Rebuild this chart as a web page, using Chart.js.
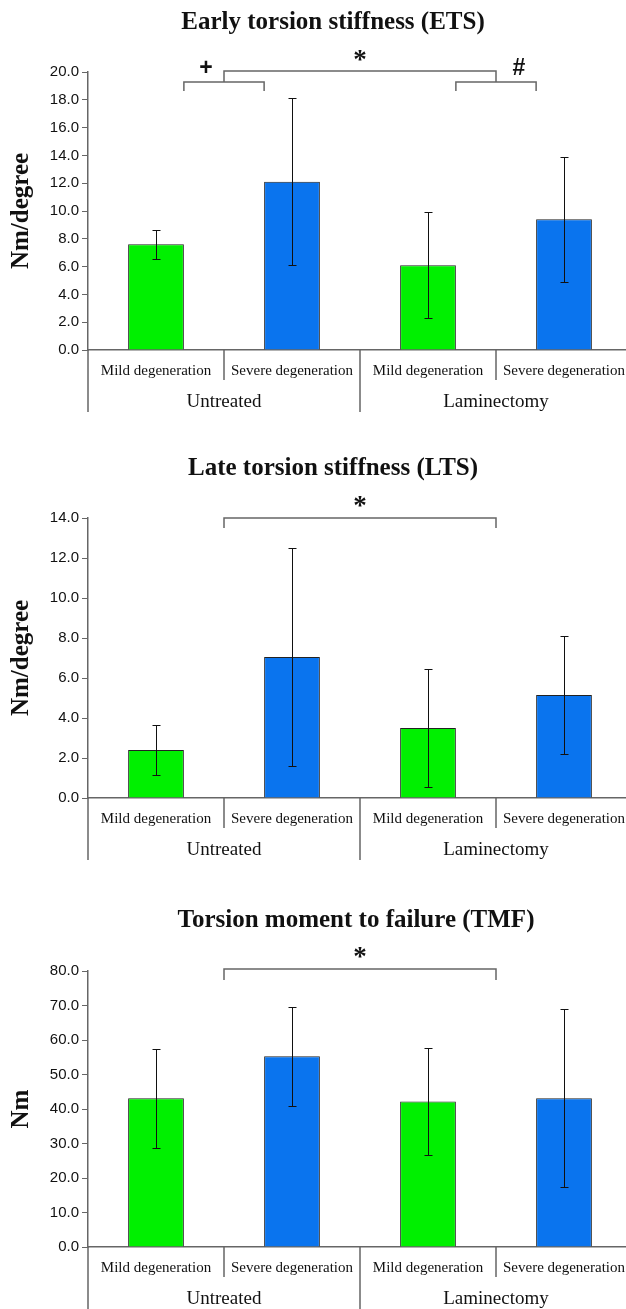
<!DOCTYPE html>
<html lang="en">
<head>
<meta charset="utf-8">
<script src="https://cdn.jsdelivr.net/npm/chart.js@4.4.0/dist/chart.umd.min.js"></script>
<style>
    html, body {margin:0; background:#fff; overflow:hidden}
    canvas {position:absolute; left:0}
</style>
</head>
<body>

<!-- plot runs a few pixels past the right edge, as in the original figure -->
<canvas id="ets" style="top:0px" width="632" height="440"></canvas>
<canvas id="lts" style="top:440px" width="632" height="440"></canvas>
<canvas id="tmf" style="top:880px" width="632" height="429"></canvas>

<script type="text/javascript">
'use strict';

var categories = ["Mild degeneration", "Severe degeneration", "Mild degeneration", "Severe degeneration"];
var groups = ["Untreated", "Laminectomy"];

// early torsion stiffness, Nm/degree
var etsMean = [7.6, 12.1, 6.1, 9.4];
var etsSd = [1.05, 6.0, 3.8, 4.5];
var etsTicks = [0, 20, 2];

// late torsion stiffness, Nm/degree
var ltsMean = [2.4, 7.05, 3.5, 5.15];
var ltsSd = [1.25, 5.45, 2.95, 2.95];
var ltsTicks = [0, 14, 2];

// torsion moment to failure, Nm
var tmfMean = [43.1, 55.3, 42.2, 43.1];
var tmfSd = [14.4, 14.4, 15.6, 25.8];
var tmfTicks = [0, 80, 10];

var GREEN = '#00f000';
var BLUE = '#0a74ee';
var LINE = '#666';
var SERIF = '"Liberation Serif", "Times New Roman", serif';
var SANS = '"Liberation Sans", Arial, sans-serif';

// draws error bars, title, significance brackets and the two-level axis labels
function makeDecor(cfg) {
    return {
        id: 'decor',
        afterDatasetsDraw: function(chart) {
            var ctx = chart.ctx, area = chart.chartArea;
            var x = chart.scales.x, y = chart.scales.y;
            var meta = chart.getDatasetMeta(0);
            var values = chart.data.datasets[0].data;
            ctx.save();

            // error bars
            ctx.strokeStyle = '#111';
            ctx.lineWidth = 1;
            cfg.sd.forEach(function(sd, i) {
                var px = Math.round(meta.data[i].x) + 0.5;
                var top = Math.round(y.getPixelForValue(values[i] + sd)) + 0.5;
                var bot = Math.round(y.getPixelForValue(values[i] - sd)) + 0.5;
                ctx.beginPath();
                ctx.moveTo(px, top); ctx.lineTo(px, bot);
                ctx.moveTo(px - 4, top); ctx.lineTo(px + 4, top);
                ctx.moveTo(px - 4, bot); ctx.lineTo(px + 4, bot);
                ctx.stroke();
            });

            var x0 = x.getPixelForValue(0);
            var step = x.getPixelForValue(1) - x0;
            function pos(v) { return x0 + v * step; }

            // title
            ctx.fillStyle = '#111';
            ctx.textAlign = 'center';
            ctx.textBaseline = 'middle';
            ctx.font = 'bold 25px ' + SERIF;
            ctx.fillText(cfg.title, cfg.titleX, area.top + cfg.titleDy);

            // brackets
            ctx.strokeStyle = LINE;
            ctx.lineWidth = 1.5;
            cfg.brackets.forEach(function(b) {
                var a = pos(b.from), c = pos(b.to), yy = area.top + b.y;
                ctx.beginPath();
                ctx.moveTo(a, yy + b.drop); ctx.lineTo(a, yy);
                ctx.lineTo(c, yy); ctx.lineTo(c, yy + b.drop);
                ctx.stroke();
                ctx.font = b.mark === '*' ? 'bold 27px ' + SERIF : 'bold 23px ' + SANS;
                ctx.fillText(b.mark, (a + c) / 2 + b.mx, area.top + b.my);
            });

            // category labels and dividers
            var base = area.bottom;
            ctx.font = '15px ' + SERIF;
            categories.forEach(function(c, i) {
                ctx.fillText(c, pos(i), base + 21);
            });
            ctx.font = '19px ' + SERIF;
            groups.forEach(function(g, k) {
                ctx.fillText(g, pos(2 * k + 0.5), base + 52);
            });
            ctx.strokeStyle = LINE;
            ctx.lineWidth = 1.5;
            ctx.beginPath();
            [0.5, 2.5].forEach(function(v) {
                ctx.moveTo(pos(v), base); ctx.lineTo(pos(v), base + 30);
            });
            [-0.5, 1.5].forEach(function(v) {
                ctx.moveTo(pos(v), base); ctx.lineTo(pos(v), base + 62);
            });
            ctx.stroke();
            ctx.restore();
        }
    };
}

function makeChart(id, values, ticks, axisTitle, padTop, xHeight, decor) {
    return new Chart(document.getElementById(id), {
        type: 'bar',
        data: {
            labels: categories,
            datasets: [{
                data: values,
                backgroundColor: [GREEN, BLUE, GREEN, BLUE],
                borderColor: '#222',
                borderWidth: 1,
                barPercentage: 0.41,
                categoryPercentage: 1.0
            }]
        },
        options: {
            responsive: false,
            animation: false,
            layout: {padding: {top: padTop, right: 0, left: 0, bottom: 0}},
            plugins: {legend: {display: false}, tooltip: {enabled: false}},
            scales: {
                x: {
                    ticks: {display: false},
                    grid: {display: false},
                    border: {color: LINE, width: 1.5},
                    afterFit: function(s) { s.height = xHeight; }
                },
                y: {
                    min: ticks[0], max: ticks[1],
                    ticks: {
                        stepSize: ticks[2],
                        color: '#111',
                        padding: 3,
                        font: {family: SANS, size: 15},
                        callback: function(v) { return v.toFixed(1); }
                    },
                    grid: {drawOnChartArea: false, drawTicks: true, tickLength: 6, color: LINE},
                    border: {color: LINE, width: 1.5},
                    title: {
                        display: true, text: axisTitle, color: '#111',
                        font: {family: SERIF, size: 25, weight: 'bold'},
                        padding: {top: 7, bottom: 0}
                    },
                    afterFit: function(s) { s.width = 88; }
                }
            }
        },
        plugins: [makeDecor(decor)]
    });
}

function drawGraphs() {
    makeChart('ets', etsMean, etsTicks, 'Nm/degree', 72, 90, {
        sd: etsSd, title: 'Early torsion stiffness (ETS)', titleX: 333, titleDy: -49,
        brackets: [
            {from: 0.205, to: 0.795, y: 10, drop: 9, mark: '+', mx: -18, my: -3},
            {from: 2.205, to: 2.795, y: 10, drop: 9, mark: '#', mx: 23, my: -3},
            {from: 0.5, to: 2.5, y: -1, drop: 11, mark: '*', mx: 0, my: -11}
        ]
    });
    makeChart('lts', ltsMean, ltsTicks, 'Nm/degree', 78, 82, {
        sd: ltsSd, title: 'Late torsion stiffness (LTS)', titleX: 333, titleDy: -49,
        brackets: [{from: 0.5, to: 2.5, y: 0, drop: 10, mark: '*', mx: 0, my: -11}]
    });
    makeChart('tmf', tmfMean, tmfTicks, 'Nm', 91, 62, {
        sd: tmfSd, title: 'Torsion moment to failure (TMF)', titleX: 356, titleDy: -50,
        brackets: [{from: 0.5, to: 2.5, y: -2, drop: 11, mark: '*', mx: 0, my: -13}]
    });
}
window.onload = function() {
    drawGraphs();
};
</script>
</body>
</html>
